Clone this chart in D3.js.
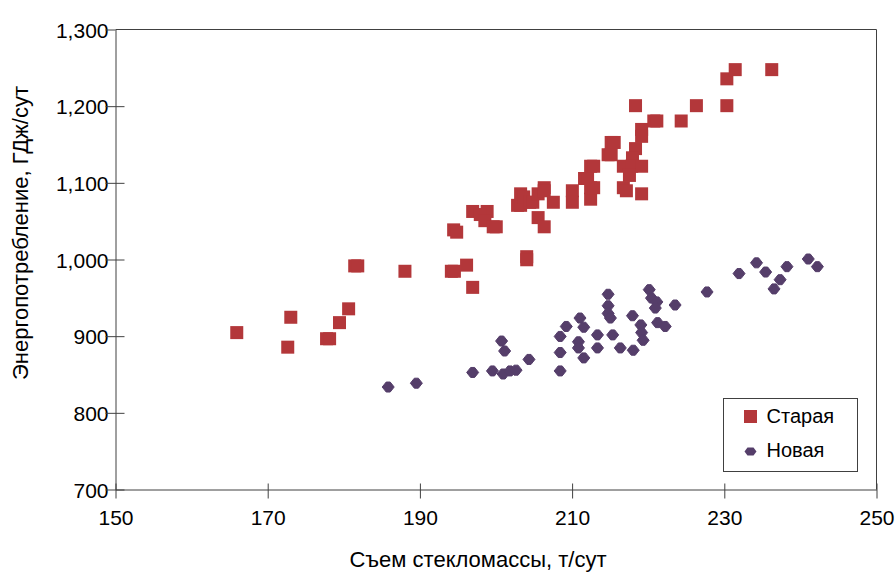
<!DOCTYPE html>
<html lang="ru">
<head>
<meta charset="utf-8">
<title>Энергопотребление</title>
<style>
  body { margin: 0; background: #fff; }
  svg text { font-family: "Liberation Sans", Arial, sans-serif; fill: #000; }
  .frame { fill: none; stroke: #404040; stroke-width: 1; }
</style>
</head>
<body>
<script src="https://cdn.jsdelivr.net/npm/d3@7"></script>
<div id="chart"></div>
<script>
// данные: съем стекломассы (т/сут) и энергопотребление (ГДж/сут)
var oldX = [166.0, 173.1, 172.7, 177.8, 178.2, 179.5, 180.7, 181.5, 181.9, 188.1,
  194.2, 194.6, 196.2, 197.0, 194.5, 194.9, 197.0, 198.9, 198.0, 198.6,
  199.7, 200.1, 204.1, 204.1, 202.9, 203.3, 203.3, 203.7, 204.5, 204.9,
  205.6, 206.4, 206.4, 207.6, 205.6, 206.4, 210.1, 210.1, 212.5, 212.5,
  212.9, 211.7, 212.1, 212.5, 212.9, 214.8, 215.2, 215.2, 215.6, 218.4,
  218.0, 216.8, 217.9, 219.2, 217.6, 216.8, 217.2, 219.2, 219.2, 219.2,
  218.4, 220.8, 221.2, 224.4, 226.4, 230.4, 230.4, 231.5, 236.3];
var oldY = [904, 924, 885, 896, 896, 917, 935, 991, 991, 984,
  984, 984, 992, 963, 1038, 1035, 1062, 1062, 1058, 1050,
  1042, 1042, 1003, 999, 1070, 1070, 1085, 1081, 1074, 1074,
  1085, 1093, 1089, 1074, 1054, 1042, 1089, 1074, 1078, 1093,
  1093, 1105, 1105, 1121, 1121, 1136, 1136, 1152, 1152, 1144,
  1132, 1121, 1121, 1121, 1109, 1093, 1089, 1085, 1169, 1160,
  1200, 1180, 1180, 1180, 1200, 1200, 1235, 1247, 1247];

var newX = [185.9, 189.6, 197.0, 199.6, 201.0, 201.9, 202.7, 200.8, 201.2, 204.4,
  208.5, 209.3, 208.5, 208.5, 211.1, 211.6, 210.9, 210.9, 211.6, 213.4,
  213.4, 214.8, 214.8, 214.8, 215.1, 215.4, 216.4, 218.1, 218.0, 219.1,
  219.2, 219.4, 220.2, 220.5, 221.2, 221.0, 221.3, 222.3, 223.6, 227.8,
  232.0, 234.3, 235.5, 237.4, 236.6, 238.3, 241.1, 242.3];
var newY = [833, 838, 852, 854, 850, 854, 855, 893, 880, 869,
  899, 912, 878, 854, 923, 911, 892, 884, 871, 901,
  884, 954, 939, 929, 923, 901, 884, 881, 926, 914,
  904, 894, 960, 949, 944, 936, 917, 912, 940, 957,
  981, 995, 983, 973, 961, 990, 1000, 990];

var xTicks = [150, 170, 190, 210, 230, 250];
var yTicks = [700, 800, 900, 1000, 1100, 1200, 1300];
var seriesNames = ["Старая", "Новая"];

var width = 895, height = 573;
var plotLeft = 115, plotRight = 876, plotTop = 29, plotBottom = 489;
var redColor = "#b3373a", purpleColor = "#553e6a";

var svg = d3.select("#chart").append("svg")
  .attr("width", width)
  .attr("height", height);

var x = d3.scaleLinear().domain([150, 250]).range([plotLeft, plotRight]);
var y = d3.scaleLinear().domain([700, 1300]).range([plotBottom, plotTop]);

// рамка (верх и право)
svg.append("path")
  .attr("class", "frame")
  .attr("d", "M" + (plotLeft + 0.5) + "," + (plotTop + 0.5) + "H" + (plotRight + 0.5) + "V" + (plotBottom + 0.5));

// ось Y
var yAxis = d3.axisLeft(y).tickValues(yTicks).tickSize(0)
  .tickFormat(d3.format(","));
var gy = svg.append("g").attr("transform", "translate(" + (plotLeft + 0.5) + ",0.5)").call(yAxis);
gy.select(".domain").attr("stroke", "#404040");
gy.selectAll(".tick line").remove();
gy.selectAll(".tick").append("line")
  .attr("x1", -10).attr("x2", function(d) { return d === 1300 ? 0 : 9; })
  .attr("stroke", "#404040");
gy.selectAll(".tick text")
  .attr("x", -7).attr("dy", "0.36em")
  .style("font-size", "21px").style("font-family", "Liberation Sans, Arial, sans-serif")
  .attr("fill", "#000");

// ось X
var xAxis = d3.axisBottom(x).tickValues(xTicks).tickSize(0);
var gx = svg.append("g").attr("transform", "translate(0.5," + (plotBottom + 0.5) + ")").call(xAxis);
gx.select(".domain").attr("stroke", "#404040");
gx.selectAll(".tick line").remove();
gx.selectAll(".tick").append("line")
  .attr("y1", -6).attr("y2", 9)
  .attr("stroke", "#404040");
gx.selectAll(".tick text")
  .attr("y", 21).attr("dy", "0.71em")
  .style("font-size", "21px").style("font-family", "Liberation Sans, Arial, sans-serif")
  .attr("fill", "#000");

// подписи осей
svg.append("text")
  .attr("x", 478).attr("y", 567)
  .attr("text-anchor", "middle")
  .style("font-size", "22px")
  .text("Съем стекломассы, т/сут");

svg.append("text")
  .attr("transform", "translate(28," + ((plotTop + plotBottom) / 2 - 26) + ") rotate(-90)")
  .attr("text-anchor", "middle")
  .style("font-size", "22px")
  .text("Энергопотребление, ГДж/сут");

// «Старая» — квадраты
var oldData = oldX.map(function(v, i) { return [v, oldY[i]]; });
svg.append("g").selectAll("rect")
  .data(oldData)
  .enter()
  .append("rect")
  .attr("x", function(d) { return x(d[0]) - 6.5; })
  .attr("y", function(d) { return y(d[1]) - 6.5; })
  .attr("width", 13).attr("height", 13)
  .attr("fill", redColor);

// «Новая» — ромбы
var diamond = "M-6,0L-2,-5L2,-5L6,0L2,5L-2,5Z";
var newData = newX.map(function(v, i) { return [v, newY[i]]; });
svg.append("g").selectAll("path")
  .data(newData)
  .enter()
  .append("path")
  .attr("d", diamond)
  .attr("transform", function(d) { return "translate(" + x(d[0]) + "," + y(d[1]) + ")"; })
  .attr("fill", purpleColor)
  .attr("stroke", purpleColor)
  .attr("stroke-width", 1)
  .attr("stroke-linejoin", "round");

// легенда
var legend = svg.append("g").attr("transform", "translate(723.5,398.5)");
legend.append("rect")
  .attr("width", 134).attr("height", 73)
  .attr("fill", "#fff").attr("stroke", "#404040");
legend.append("rect")
  .attr("x", 20.5).attr("y", 11.5).attr("width", 13).attr("height", 13)
  .attr("fill", redColor);
legend.append("path")
  .attr("d", "M-6,0L-3,-4L3,-4L6,0L3,4L-3,4Z")
  .attr("transform", "translate(27,53)")
  .attr("fill", purpleColor);
legend.selectAll("text.lbl")
  .data(seriesNames)
  .enter()
  .append("text")
  .attr("class", "lbl")
  .attr("x", 43)
  .attr("y", function(d, i) { return 24 + i * 34; })
  .style("font-size", "20px")
  .text(function(d) { return d; });
</script>
</body>
</html>
